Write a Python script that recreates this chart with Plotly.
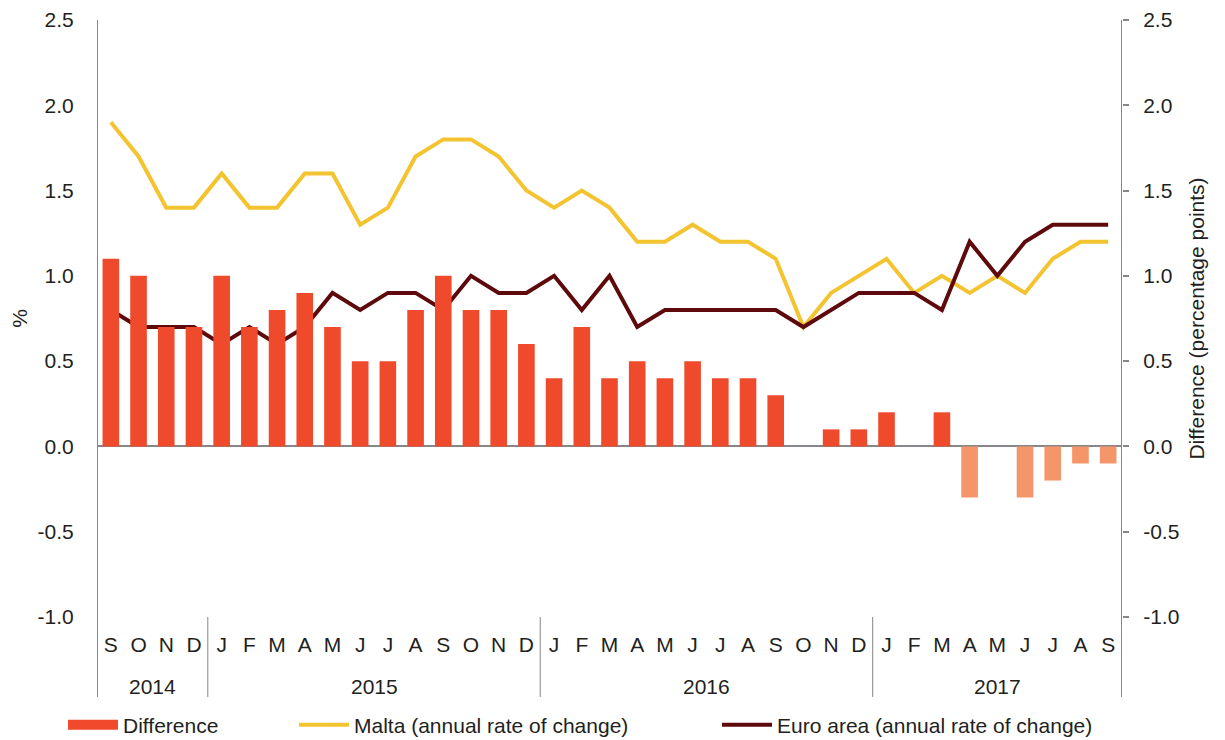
import plotly.graph_objects as go

# Sep 2014 - Sep 2017, monthly
months = ['S', 'O', 'N', 'D',
          'J', 'F', 'M', 'A', 'M', 'J', 'J', 'A', 'S', 'O', 'N', 'D',
          'J', 'F', 'M', 'A', 'M', 'J', 'J', 'A', 'S', 'O', 'N', 'D',
          'J', 'F', 'M', 'A', 'M', 'J', 'J', 'A', 'S']
years = ['2014', '2015', '2016', '2017']
year_first_idx = [0, 4, 16, 28]
year_last_idx = [3, 15, 27, 36]

malta = [1.9, 1.7, 1.4, 1.4,
         1.6, 1.4, 1.4, 1.6, 1.6, 1.3, 1.4, 1.7, 1.8, 1.8, 1.7, 1.5,
         1.4, 1.5, 1.4, 1.2, 1.2, 1.3, 1.2, 1.2, 1.1, 0.7, 0.9, 1.0,
         1.1, 0.9, 1.0, 0.9, 1.0, 0.9, 1.1, 1.2, 1.2]
euro_area = [0.8, 0.7, 0.7, 0.7,
             0.6, 0.7, 0.6, 0.7, 0.9, 0.8, 0.9, 0.9, 0.8, 1.0, 0.9, 0.9,
             1.0, 0.8, 1.0, 0.7, 0.8, 0.8, 0.8, 0.8, 0.8, 0.7, 0.8, 0.9,
             0.9, 0.9, 0.8, 1.2, 1.0, 1.2, 1.3, 1.3, 1.3]
difference = [1.1, 1.0, 0.7, 0.7,
              1.0, 0.7, 0.8, 0.9, 0.7, 0.5, 0.5, 0.8, 1.0, 0.8, 0.8, 0.6,
              0.4, 0.7, 0.4, 0.5, 0.4, 0.5, 0.4, 0.4, 0.3, 0.0, 0.1, 0.1,
              0.2, 0.0, 0.2, -0.3, 0.0, -0.3, -0.2, -0.1, -0.1]

y_ticks = [-1.0, -0.5, 0.0, 0.5, 1.0, 1.5, 2.0, 2.5]
y_ticktext = ['%.1f' % v for v in y_ticks]   # plain hyphen for negatives

x = list(range(len(months)))

RED = '#EF4A2B'
SALMON = '#F5956A'
YELLOW = '#F4C430'
MAROON = '#5E0A0C'
AXIS = '#86878B'
TEXT = '#231F20'
FONT = 'Liberation Sans, Arial, sans-serif'
FS = 21

bar_colors = [RED if v >= 0 else SALMON for v in difference]

fig = go.Figure()

fig.add_trace(go.Bar(
    x=x, y=difference, name='Difference',
    marker=dict(color=bar_colors, line=dict(width=0)),
    width=0.6, yaxis='y2', showlegend=False
))
# legend key for the bars: wide flat swatch as in the original
fig.add_trace(go.Scatter(
    x=[None], y=[None], name='Difference', mode='lines',
    line=dict(color=RED, width=12), legend='legend', showlegend=True
))
fig.add_trace(go.Scatter(
    x=x, y=malta, name='Malta (annual rate of change)',
    mode='lines', line=dict(color=YELLOW, width=4),
    legend='legend2', showlegend=True
))
fig.add_trace(go.Scatter(
    x=x, y=euro_area, name='Euro area (annual rate of change)',
    mode='lines', line=dict(color=MAROON, width=4),
    legend='legend3', showlegend=True
))

# axis spines extending through the category area, and year separators
bottom = -0.134
for xv in [-0.5, 3.5, 15.5, 27.5, 36.5]:
    top = 1.0 if xv in (-0.5, 36.5) else 0.0
    fig.add_shape(type='line', xref='x', yref='paper',
                  x0=xv, x1=xv, y0=bottom, y1=top,
                  line=dict(color=AXIS, width=2 if top == 1.0 else 1))

for yr, a, b in zip(years, year_first_idx, year_last_idx):
    fig.add_annotation(x=(a + b) / 2, y=-0.117, xref='x', yref='paper',
                       text=yr, showarrow=False, yanchor='middle',
                       font=dict(size=FS, color=TEXT, family=FONT))

legend_common = dict(orientation='h', xref='container', yref='container',
                     yanchor='middle', y=0.0205, xanchor='left',
                     bgcolor='rgba(0,0,0,0)', itemwidth=50,
                     font=dict(size=FS, color=TEXT, family=FONT))

# page body adds an 8px offset, so the figure is 8px smaller each way
fig.update_layout(
    width=1217, height=732,
    margin=dict(l=89, r=103, t=12, b=123),
    plot_bgcolor='white', paper_bgcolor='white',
    font=dict(family=FONT, size=FS, color=TEXT),
    showlegend=True,
    legend=dict(x=0.0452, **legend_common),
    legend2=dict(x=0.235, **legend_common),
    legend3=dict(x=0.5826, **legend_common),
    xaxis=dict(
        range=[-0.5, 36.5], automargin=False,
        tickmode='array', tickvals=x, ticktext=months,
        ticks='outside', ticklen=9, tickcolor='rgba(0,0,0,0)',
        showgrid=False, showline=False, zeroline=False,
        tickfont=dict(size=FS, family=FONT, color=TEXT)
    ),
    yaxis=dict(
        range=[-1.0, 2.5], automargin=False,
        tickmode='array', tickvals=y_ticks, ticktext=y_ticktext,
        showgrid=False, showline=False,
        zeroline=True, zerolinecolor=AXIS, zerolinewidth=2,
        ticks='outside', ticklen=18, tickcolor='rgba(0,0,0,0)',
        title=dict(text='%', standoff=12, font=dict(size=FS, family=FONT)),
        tickfont=dict(size=FS, family=FONT, color=TEXT)
    ),
    yaxis2=dict(
        range=[-1.0, 2.5], automargin=False,
        tickmode='array', tickvals=y_ticks, ticktext=y_ticktext,
        overlaying='y', side='right',
        showgrid=False, showline=False, zeroline=False,
        ticks='outside', ticklen=6, tickwidth=2, tickcolor=AXIS,
        ticklabelstandoff=10,
        title=dict(text='Difference (percentage points)', standoff=10,
                   font=dict(size=FS, family=FONT)),
        tickfont=dict(size=FS, family=FONT, color=TEXT)
    ),
)

fig.write_html('out.html')
